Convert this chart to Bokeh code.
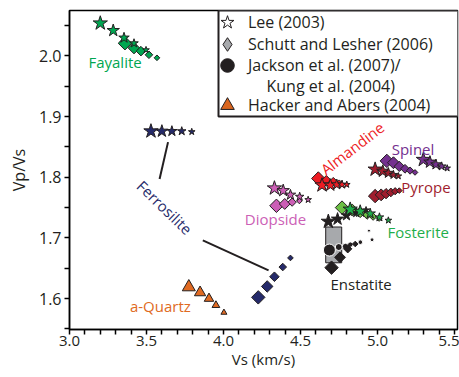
import numpy as np
from bokeh.plotting import figure
from bokeh.models import (ColumnDataSource, FixedTicker, PrintfTickFormatter,
                          Label, Legend, LegendItem, BoxAnnotation)
from bokeh.embed import file_html
from bokeh.resources import INLINE

# ---------------- data ----------------
x_ticks = [3.0, 3.5, 4.0, 4.5, 5.0, 5.5]
x_minor = [3.1, 3.2, 3.3, 3.4, 3.6, 3.7, 3.8, 3.9, 4.1, 4.2, 4.3, 4.4,
           4.6, 4.7, 4.8, 4.9, 5.1, 5.2, 5.3, 5.4]
y_ticks = [1.6, 1.7, 1.8, 1.9, 2.0]
y_minor = [1.55, 1.65, 1.75, 1.85, 1.95, 2.05]

# Fayalite
fay_lee_vs = [3.20, 3.284, 3.354, 3.419, 3.497]
fay_lee_vpvs = [2.054, 2.042, 2.030, 2.021, 2.010]
fay_sl_vs = [3.36, 3.419, 3.464, 3.516, 3.568]
fay_sl_vpvs = [2.021, 2.013, 2.008, 2.002, 1.997]
# Ferrosilite
fer_lee_vs = [3.529, 3.600, 3.665, 3.729, 3.794]
fer_lee_vpvs = [1.876, 1.876, 1.876, 1.876, 1.875]
fer_sl_vs = [4.226, 4.284, 4.331, 4.385, 4.435]
fer_sl_vpvs = [1.602, 1.620, 1.636, 1.652, 1.667]
# a-Quartz
qtz_ha_vs = [3.775, 3.848, 3.906, 3.951, 4.003]
qtz_ha_vpvs = [1.619, 1.610, 1.600, 1.589, 1.577]
# Diopside
dio_lee_vs = [4.331, 4.388, 4.435, 4.495, 4.550]
dio_lee_vpvs = [1.782, 1.778, 1.771, 1.768, 1.763]
dio_sl_vs = [4.344, 4.398, 4.446, 4.493]
dio_sl_vpvs = [1.753, 1.756, 1.759, 1.761]
# Almandine
alm_lee_vs = [4.640, 4.694, 4.736, 4.770, 4.801]
alm_lee_vpvs = [1.787, 1.787, 1.788, 1.788, 1.788]
alm_sl_vs = [4.616, 4.668, 4.713, 4.752]
alm_sl_vpvs = [1.798, 1.794, 1.793, 1.791]
# Spinel
spi_lee_vs = [5.298, 5.341, 5.380, 5.417, 5.453]
spi_lee_vpvs = [1.829, 1.825, 1.821, 1.818, 1.815]
spi_sl_vs = [5.061, 5.104, 5.142, 5.179, 5.212, 5.244]
spi_sl_vpvs = [1.827, 1.824, 1.818, 1.814, 1.811, 1.808]
# Pyrope
pyr_lee_vs = [4.985, 5.035, 5.071, 5.104, 5.136]
pyr_lee_vpvs = [1.813, 1.810, 1.807, 1.804, 1.802]
pyr_sl_vs = [4.985, 5.024, 5.056, 5.087, 5.115, 5.142]
pyr_sl_vpvs = [1.769, 1.771, 1.773, 1.775, 1.777, 1.778]
# Fosterite
fos_lee_vs = [4.823, 4.888, 4.953, 5.013, 5.071]
fos_lee_vpvs = [1.747, 1.744, 1.740, 1.734, 1.729]
fos_sl_vs = [4.770, 4.836, 4.888, 4.933, 4.972, 5.011]
fos_sl_vpvs = [1.750, 1.746, 1.742, 1.738, 1.735, 1.732]
# Enstatite
ens_lee_vs = [4.681, 4.741, 4.799, 4.862, 4.926]
ens_lee_vpvs = [1.727, 1.731, 1.737, 1.741, 1.746]
ens_sl_vs = [4.702, 4.757, 4.807, 4.856]
ens_sl_vpvs = [1.651, 1.668, 1.682, 1.690]
ens_jk_vs = [4.688, 4.749, 4.792, 4.824, 4.889, 4.965, 4.945]
ens_jk_vpvs = [1.680, 1.685, 1.686, 1.689, 1.693, 1.697, 1.712]
ens_kung_vs = [4.664, 4.768]
ens_kung_vpvs = [1.659, 1.718]

minerals = ["Fayalite", "Ferrosilite", "a-Quartz", "Diopside", "Almandine",
            "Spinel", "Pyrope", "Fosterite", "Enstatite"]
legend_texts = ["Lee (2003)", "Schutt and Lesher (2006)", "Jackson et al. (2007)/",
                "Kung et al. (2004)", "Hacker and Abers (2004)"]

# ---------------- styles / layout ----------------
C = {"Fayalite": "#00a651", "Ferrosilite": "#252a6a", "a-Quartz": "#e06a22",
     "Diopside": "#cc5fb6", "Almandine": "#ed1c24", "Spinel": "#74308f",
     "Pyrope": "#a01d2e", "Fosterite": "#1fae4b", "Enstatite": "#231f20"}
FONT = "Open Sans"
FW, FH = 388, 319

label_vs = [3.296, 3.619, 3.590, 4.338, 4.836, 5.231, 5.315, 5.265, 4.894]
label_vpvs = [1.9909, 1.7504, 1.5872, 1.7312, 1.8480, 1.8459, 1.7845, 1.7099, 1.6245]
label_angle = [0, -0.77, 0, 0, 0.66, 0, 0, 0, 0]
ferro_leader_x0 = [3.640, 3.866]
ferro_leader_y0 = [1.858, 1.696]
ferro_leader_x1 = [3.585, 4.293]
ferro_leader_y1 = [1.797, 1.6464]

p = figure(frame_width=FW, frame_height=FH, x_range=(3.0, 5.52), y_range=(1.549, 2.075),
           output_backend="svg", toolbar_location=None,
           min_border_left=69, min_border_right=2, min_border_top=10,
           min_border_bottom=0)
p.grid.visible = False
p.outline_line_color = "black"
p.outline_line_width = 1.5
p.background_fill_color = "white"

for ax in (p.xaxis[0], p.yaxis[0]):
    ax.axis_line_width = 1.5
    ax.major_tick_in = 0
    ax.major_tick_out = 5
    ax.minor_tick_in = 0
    ax.minor_tick_out = 5
    ax.major_tick_line_width = 1.5
    ax.minor_tick_line_width = 1.5
    ax.major_label_text_font = FONT
    ax.major_label_text_font_size = "16px"
    ax.major_label_text_color = "#231f20"
    ax.axis_label_text_font = FONT
    ax.axis_label_text_font_size = "16px"
    ax.axis_label_text_font_style = "normal"
    ax.axis_label_text_color = "#231f20"
    ax.formatter = PrintfTickFormatter(format="%.1f")

p.xaxis[0].major_label_text_font_size = "15px"
p.xaxis[0].axis_label_text_font_size = "15px"
p.xaxis[0].ticker = FixedTicker(ticks=x_ticks, minor_ticks=x_minor)
p.yaxis[0].ticker = FixedTicker(ticks=y_ticks, minor_ticks=y_minor)
p.xaxis[0].axis_label = "Vs (km/s)"
p.yaxis[0].axis_label = "Vp/Vs"
p.xaxis[0].major_label_standoff = 1
p.xaxis[0].axis_label_standoff = 0
p.yaxis[0].major_label_standoff = 3
p.yaxis[0].axis_label_standoff = 6

# Kung et al. range box (Enstatite)
p.quad(left=[ens_kung_vs[0]], right=[ens_kung_vs[1]], bottom=[ens_kung_vpvs[0]],
       top=[ens_kung_vpvs[1]], fill_color="#a7a9ac", line_color="#231f20", line_width=1)

# Ferrosilite leader lines
p.segment(x0=ferro_leader_x0, y0=ferro_leader_y0, x1=ferro_leader_x1, y1=ferro_leader_y1,
          line_color="#231f20", line_width=2)


def sizes(kind, n):
    if kind == "star":
        return list(np.linspace(15, 7, n))
    if kind == "diamond":
        return list(np.linspace(9.5, 4, n))
    if kind == "triangle":
        return list(np.linspace(13, 6, n))
    return [12] + list(np.linspace(7, 3, n - 1))


def draw(vs, vpvs, kind, color, line_color="#231f20"):
    src = ColumnDataSource(dict(x=vs, y=vpvs, s=sizes(kind, len(vs))))
    marker = {"star": "star", "diamond": "square", "triangle": "triangle",
              "circle": "circle"}[kind]
    angle = np.pi / 4 if kind == "diamond" else 0
    p.scatter("x", "y", source=src, size="s", marker=marker, angle=angle,
              fill_color=color, line_color=line_color, line_width=1)


draw(qtz_ha_vs, qtz_ha_vpvs, "triangle", C["a-Quartz"])
draw(ens_jk_vs, ens_jk_vpvs, "circle", C["Enstatite"], line_color="white")
for vs, vp, m in [(fay_sl_vs, fay_sl_vpvs, "Fayalite"), (fer_sl_vs, fer_sl_vpvs, "Ferrosilite"),
                  (dio_sl_vs, dio_sl_vpvs, "Diopside"), (alm_sl_vs, alm_sl_vpvs, "Almandine"),
                  (spi_sl_vs, spi_sl_vpvs, "Spinel"), (pyr_sl_vs, pyr_sl_vpvs, "Pyrope"),
                  (ens_sl_vs, ens_sl_vpvs, "Enstatite")]:
    draw(vs, vp, "diamond", C[m])
draw(fos_sl_vs, fos_sl_vpvs, "diamond", "#6cbf45")
for vs, vp, m in [(fay_lee_vs, fay_lee_vpvs, "Fayalite"), (fer_lee_vs, fer_lee_vpvs, "Ferrosilite"),
                  (dio_lee_vs, dio_lee_vpvs, "Diopside"), (alm_lee_vs, alm_lee_vpvs, "Almandine"),
                  (spi_lee_vs, spi_lee_vpvs, "Spinel"), (pyr_lee_vs, pyr_lee_vpvs, "Pyrope"),
                  (ens_lee_vs, ens_lee_vpvs, "Enstatite"), (fos_lee_vs, fos_lee_vpvs, "Fosterite")]:
    draw(vs, vp, "star", C[m])

# mineral labels
for name, lx, ly, la in zip(minerals, label_vs, label_vpvs, label_angle):
    p.add_layout(Label(x=lx, y=ly, text=name, angle=la, text_align="center",
                       text_baseline="middle", text_font=FONT, text_font_size="15px",
                       text_color=C[name]))

# ---------------- legend ----------------
LB_LEFT, LB_TOP, LB_BOTTOM = 149, 0, 106   # px from frame left / top
p.add_layout(BoxAnnotation(left=LB_LEFT, right=FW + 1, top=FH - LB_TOP, bottom=FH - LB_BOTTOM,
                           left_units="screen", right_units="screen",
                           top_units="screen", bottom_units="screen",
                           fill_color="white", fill_alpha=1,
                           line_color="#231f20", line_width=2, line_alpha=1))

# key renderers: one non-finite point each, so nothing is drawn in the plot area
nan_pt = dict(x=[float("nan")], y=[float("nan")])
r_lee = p.scatter("x", "y", source=ColumnDataSource(nan_pt), marker="star",
                  fill_color="white", line_color="#231f20", line_width=1)
r_sl = p.scatter("x", "y", source=ColumnDataSource(nan_pt), marker="diamond",
                 fill_color="#a7a9ac", line_color="#231f20", line_width=1)
r_jk = p.scatter("x", "y", source=ColumnDataSource(nan_pt), marker="circle",
                 fill_color="#231f20", line_color="#231f20", line_width=1)
r_ha = p.scatter("x", "y", source=ColumnDataSource(nan_pt), marker="triangle",
                 fill_color="#d9651e", line_color="#231f20", line_width=1)

row_centres = [12, 34, 55, 95]   # px below frame top
GW = 34
for text, r, yc in zip([legend_texts[0], legend_texts[1], legend_texts[2], legend_texts[4]],
                       [r_lee, r_sl, r_jk, r_ha], row_centres):
    p.add_layout(Legend(items=[LegendItem(label=text, renderers=[r])],
                        location=(158 - GW // 2, FH - yc - GW // 2), margin=0, padding=0,
                        spacing=0, glyph_width=GW, glyph_height=GW, label_standoff=4,
                        label_text_font=FONT, label_text_font_size="16px",
                        label_text_color="#231f20", border_line_alpha=0,
                        background_fill_alpha=0))
p.add_layout(Label(x=197, y=FH - 75, x_units="screen", y_units="screen",
                   text=legend_texts[3], text_baseline="middle", text_align="left",
                   text_font=FONT, text_font_size="16px", text_color="#231f20"))

open("out.html", "w").write(file_html(p, INLINE))
